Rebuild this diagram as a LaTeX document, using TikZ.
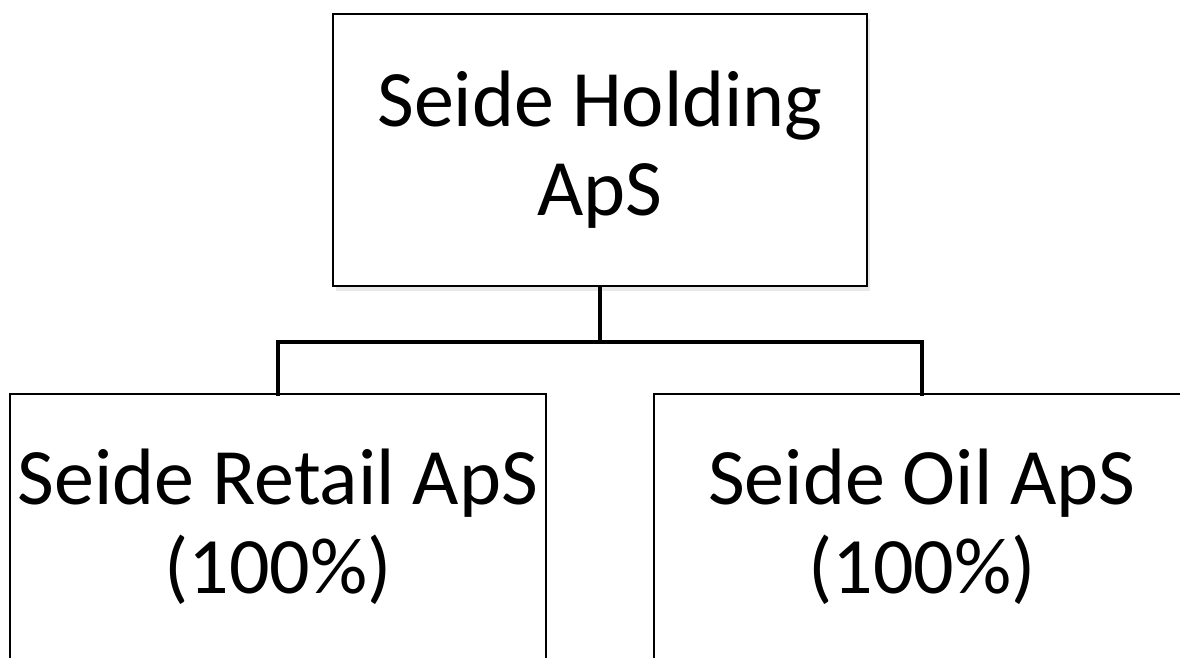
\documentclass[tikz,border=0pt]{standalone}
\usepackage{fontspec}
\setmainfont{Carlito}
\begin{document}
\begin{tikzpicture}[x=1pt,y=-1pt,
  orgbox/.style={draw=black,line width=1.5pt,fill=white,inner sep=0pt,align=center,
    font=\fontsize{80}{89}\selectfont},
  link/.style={line width=4.5pt,line cap=rect}]
\clip (0,0) rectangle (1180,657);
\useasboundingbox (0,0) rectangle (1180,657);
\fill[white] (0,0) rectangle (1180,657);
\fill[gray!18] (336,19) rectangle (870,291);
\node[orgbox,minimum width=534pt,minimum height=272pt] (hold) at (600,150) {Seide Holding\\ApS};
\node[orgbox,minimum width=536pt,minimum height=266pt] (retail) at (278,527) {Seide Retail ApS\\(100\%)};
\node[orgbox,minimum width=536pt,minimum height=266pt] (oil) at (922,527) {Seide Oil ApS\\(100\%)};
\coordinate (mid) at (600,342);
\draw[link] (hold.south) -- (mid);
\draw[link] (retail.north) |- (mid) -| (oil.north);
\end{tikzpicture}
\end{document}
